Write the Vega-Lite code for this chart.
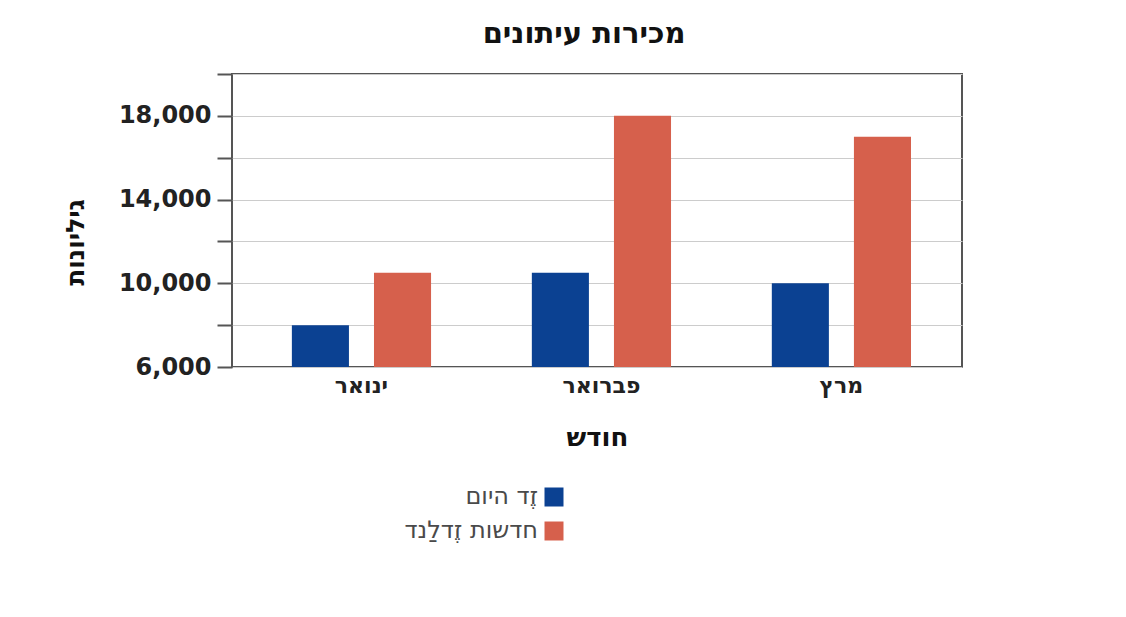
{
  "$schema": "https://vega.github.io/schema/vega-lite/v6.json",
  "width": 730,
  "height": 293,
  "autosize": {"type": "none"},
  "padding": {"left": 232, "top": 74, "right": 164, "bottom": 250},
  "background": "white",
  "config": {
    "font": "DejaVu Sans",
    "view": {"stroke": "#555555", "strokeWidth": 2}
  },
  "title": {
    "text": "מכירות עיתונים",
    "fontSize": 29,
    "fontWeight": "bold",
    "color": "#111111",
    "anchor": "middle",
    "frame": "group",
    "offset": 24,
    "dx": -13
  },
  "data": {
    "values": [
      {"month": "ינואר", "paper": "זֶד היום", "sales": 8000},
      {"month": "ינואר", "paper": "חדשות זֶדלַנד", "sales": 10500},
      {"month": "פברואר", "paper": "זֶד היום", "sales": 10500},
      {"month": "פברואר", "paper": "חדשות זֶדלַנד", "sales": 18000},
      {"month": "מרץ", "paper": "זֶד היום", "sales": 10000},
      {"month": "מרץ", "paper": "חדשות זֶדלַנד", "sales": 17000}
    ]
  },
  "mark": {"type": "bar", "clip": true},
  "encoding": {
    "x": {
      "field": "month",
      "type": "nominal",
      "sort": ["ינואר", "פברואר", "מרץ"],
      "scale": {"paddingInner": 0.42, "paddingOuter": 0.231, "align": 0.54},
      "axis": {
        "title": "חודש",
        "titleFontSize": 26,
        "titleFontWeight": "bold",
        "titleColor": "#111111",
        "titlePadding": 28,
        "labelAngle": 0,
        "labelFontSize": 22,
        "labelFontWeight": "bold",
        "labelColor": "#222222",
        "labelPadding": 8,
        "domain": false,
        "ticks": false,
        "grid": false
      }
    },
    "xOffset": {
      "field": "paper",
      "type": "nominal",
      "sort": ["זֶד היום", "חדשות זֶדלַנד"],
      "scale": {"paddingInner": 0.305, "paddingOuter": 0}
    },
    "y": {
      "field": "sales",
      "type": "quantitative",
      "scale": {"domain": [6000, 20000], "nice": false, "zero": false},
      "axis": {
        "title": "גיליונות",
        "titleFontSize": 25,
        "titleFontWeight": "bold",
        "titleColor": "#111111",
        "titlePadding": 30,
        "titleY": 168,
        "values": [6000, 8000, 10000, 12000, 14000, 16000, 18000, 20000],
        "labelExpr": "datum.value % 4000 == 2000 ? format(datum.value, ',d') : ''",
        "labelFontSize": 24,
        "labelFontWeight": "bold",
        "labelColor": "#222222",
        "labelPadding": 6,
        "tickSize": 15,
        "tickWidth": 2,
        "tickColor": "#555555",
        "domain": false,
        "grid": true,
        "gridColor": "#cccccc",
        "gridWidth": 1
      }
    },
    "color": {
      "field": "paper",
      "type": "nominal",
      "scale": {
        "domain": ["זֶד היום", "חדשות זֶדלַנד"],
        "range": ["#0b4192", "#d6604c"]
      },
      "legend": {
        "title": null,
        "orient": "none",
        "legendX": 310,
        "legendY": 411,
        "symbolType": "square",
        "symbolSize": 361,
        "symbolStrokeWidth": 0,
        "labelAlign": "right",
        "labelOffset": -28,
        "labelFontSize": 24,
        "labelColor": "#4a4a4a",
        "rowPadding": 10,
        "padding": 0
      }
    }
  }
}
